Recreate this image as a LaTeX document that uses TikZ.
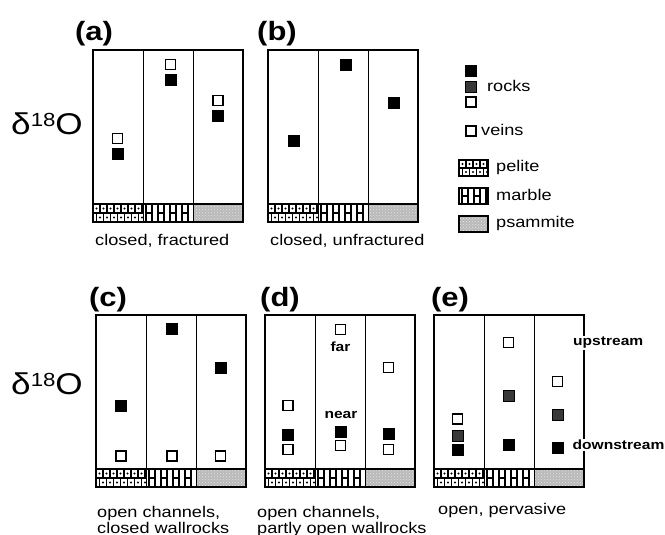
\documentclass[tikz,border=0pt]{standalone}
\usepackage{fontspec}
\setmainfont{Liberation Sans}[FakeStretch=1.17]
\usetikzlibrary{patterns}
\newcommand\pelitefill[4]{%
  \begin{scope}
    \clip (#1,#2) rectangle ++(#3,#4);
    \fill[white] (#1,#2) rectangle ++(#3,#4);
    \foreach \k in {0,...,8}{%
      \draw[line width=1.3pt] (#1+\k*7,#2) -- ++(0,#4/2);
      \draw[line width=1.3pt] (#1+\k*7+3.5,#2+#4/2) -- ++(0,#4/2);
      \fill (#1+\k*7+3.5,#2+#4/4) circle (1.1pt);
      \fill (#1+\k*7,#2+3*#4/4) circle (1.1pt);
    }
    \draw[line width=1.3pt] (#1,#2+#4/2) -- ++(#3,0);
  \end{scope}}
\newcommand\marblefill[4]{%
  \begin{scope}
    \clip (#1,#2) rectangle ++(#3,#4);
    \fill[white] (#1,#2) rectangle ++(#3,#4);
    \foreach \k in {0,...,8}{%
      \draw[line width=1.4pt] (#1+\k*6+3,#2) -- ++(0,#4);
      \draw[line width=1.4pt] (#1+\k*12+3,#2+#4/2) -- ++(6,0);
    }
  \end{scope}}
\newcommand\psamfill[4]{%
  \fill[gray!55] (#1,#2) rectangle ++(#3,#4);
  \fill[pattern=crosshatch dots, pattern color=gray!20] (#1,#2) rectangle ++(#3,#4);}
\newcommand\drawpanel[2]{%
  \pelitefill{#1}{#2+154}{50}{18}
  \marblefill{#1+50}{#2+154}{50}{18}
  \psamfill{#1+100}{#2+154}{50}{18}
  \draw[divline] (#1+50,#2) -- (#1+50,#2+172) (#1+100,#2) -- (#1+100,#2+172);
  \draw[frame] (#1,#2+154) -- (#1+150,#2+154);
  \draw[frame] (#1,#2) rectangle (#1+150,#2+172);}
\begin{document}
\begin{tikzpicture}[x=1pt,y=-1pt,
  frame/.style={line width=1.2pt},
  divline/.style={line width=0.9pt},
  rock/.style={draw=black, fill=black, minimum size=11pt, inner sep=0pt, line width=0.6pt},
  midrock/.style={rock, fill=black!78},
  vein/.style={draw=black, fill=white, minimum size=10pt, inner sep=0pt, line width=1.4pt},
  lab/.style={font=\fontsize{26.5}{28}\selectfont\bfseries, inner sep=0pt},
  txt/.style={font=\fontsize{15.5}{17}\selectfont, inner sep=0pt},
  tag/.style={font=\fontsize{13.3}{15}\selectfont\bfseries, inner sep=1pt},
  delta/.style={font=\fontsize{30}{31}\selectfont, inner sep=0pt}]
\useasboundingbox (0,0) rectangle (665,535);

% panels
\drawpanel{93}{50}
\drawpanel{268}{50}
\drawpanel{96}{315}
\drawpanel{265}{315}
\drawpanel{434}{315}

% labels
\node[lab] (la) at (94,34) {(a)};
\node[lab] (lb) at (277,34) {(b)};
\node[lab] (lc) at (108,300) {(c)};
\node[lab] (ld) at (280,300) {(d)};
\node[lab] (le) at (450,300) {(e)};

\node[delta] (dtop) at (47,124) {δ\raisebox{8pt}{\fontsize{19}{20}\selectfont 18}O};
\node[delta] (dbot) at (47,384) {δ\raisebox{8pt}{\fontsize{19}{20}\selectfont 18}O};

% captions
\node[txt, anchor=base west] (capa) at (95,245) {closed, fractured};
\node[txt, anchor=base west] (capb) at (270,245) {closed, unfractured};
\node[txt, anchor=base west] (capc1) at (97,517) {open channels,};
\node[txt, anchor=base west] (capc2) at (97,533) {closed wallrocks};
\node[txt, anchor=base west] (capd1) at (257,517) {open channels,};
\node[txt, anchor=base west] (capd2) at (257,533) {partly open wallrocks};
\node[txt, anchor=base west] (cape) at (438,514) {open, pervasive};

% (a)
\node[vein] (a1v) at (117.5,138.5) {};
\node[rock] (a1r) at (117.5,154) {};
\node[vein] (a2v) at (170.5,64.5) {};
\node[rock] (a2r) at (170.5,79.5) {};
\node[vein] (a3v) at (218,100.5) {};
\node[rock] (a3r) at (218,115.5) {};
% (b)
\node[rock] (b1r) at (294,141) {};
\node[rock] (b2r) at (346,65) {};
\node[rock] (b3r) at (394,103) {};
% (c)
\node[rock] (c1r) at (121,405.5) {};
\node[vein] (c1v) at (121,456) {};
\node[rock] (c2r) at (172,329) {};
\node[vein] (c2v) at (172,456) {};
\node[rock] (c3r) at (221,367.5) {};
\node[vein] (c3v) at (220.5,456) {};
% (d)
\node[vein] (d1v) at (288,405.5) {};
\node[rock] (d1r) at (288,435) {};
\node[vein] (d1w) at (288,449.5) {};
\node[vein] (d2v) at (340.5,329.5) {};
\node[rock] (d2r) at (340.5,431.5) {};
\node[vein] (d2w) at (340.5,445.5) {};
\node[vein] (d3v) at (388.5,367.5) {};
\node[rock] (d3r) at (388.5,434) {};
\node[vein] (d3w) at (388.5,449.5) {};
\node[tag] (far) at (340.5,347) {far};
\node[tag] (near) at (341,415) {near};
% (e)
\node[vein] (e1v) at (457.5,419) {};
\node[midrock] (e1m) at (457.5,435.5) {};
\node[rock] (e1r) at (457.5,449.5) {};
\node[vein] (e2v) at (508.5,342.5) {};
\node[midrock] (e2m) at (508.5,396) {};
\node[rock] (e2r) at (508.5,445) {};
\node[vein] (e3v) at (557.5,381.5) {};
\node[midrock] (e3m) at (557.5,415) {};
\node[rock] (e3r) at (557.5,447.5) {};
\node[tag, anchor=west, fill=white] (up) at (572,343) {upstream};
\node[tag, anchor=west, fill=white] (down) at (571.5,445) {downstream};

% legend
\node[rock] (lr1) at (471,71) {};
\node[midrock] (lr2) at (471,87) {};
\node[vein] (lr3) at (471,102) {};
\node[txt, anchor=west] (lrocks) at (487,86) {rocks};
\node[vein] (lv) at (471,131) {};
\node[txt, anchor=west] (lveins) at (481,130) {veins};
\pelitefill{459}{160}{29}{16}
\draw[frame] (459,160) rectangle ++(29,16);
\marblefill{459}{188}{29}{16}
\draw[frame] (459,188) rectangle ++(29,16);
\psamfill{459}{216}{29}{16}
\draw[frame] (459,216) rectangle ++(29,16);
\node[txt, anchor=west] (lpel) at (496,167) {pelite};
\node[txt, anchor=west] (lmar) at (496,195) {marble};
\node[txt, anchor=west] (lpsa) at (496,223) {psammite};
\end{tikzpicture}
\end{document}
